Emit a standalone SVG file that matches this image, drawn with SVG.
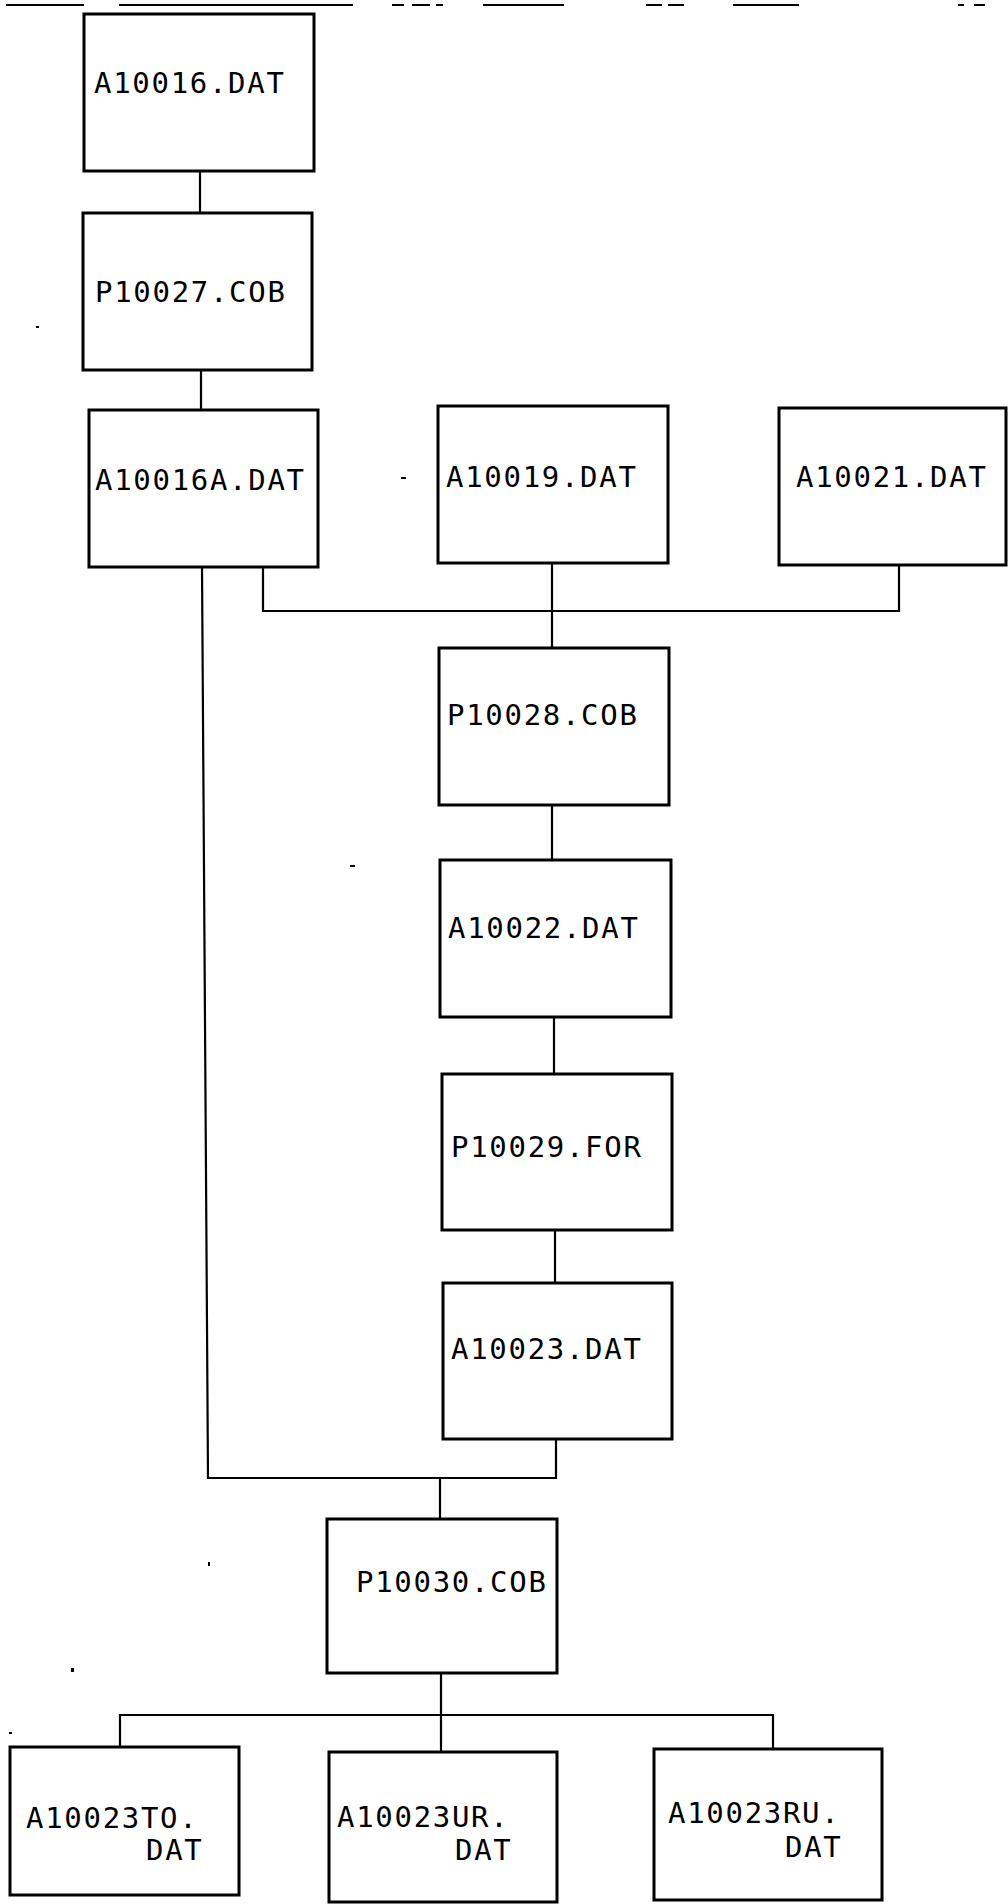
<svg xmlns="http://www.w3.org/2000/svg" width="1008" height="1904" viewBox="0 0 1008 1904">
<style>
.box{fill:#fff;stroke:#000;stroke-width:3}
.lbl{font-family:"DejaVu Sans Mono","Liberation Mono",monospace;font-size:29px;letter-spacing:1.7px;fill:#000}
.conn{fill:none;stroke:#000;stroke-width:2.2}
.scan{stroke:#000;stroke-width:2}
.speck{fill:#000}
</style>
<rect width="1008" height="1904" fill="#fff"/>
<g id="scan-marks">
<line class="scan" x1="6" y1="5" x2="84" y2="5"/>
<line class="scan" x1="119" y1="5" x2="353" y2="5"/>
<line class="scan" x1="392" y1="5" x2="404" y2="5"/>
<line class="scan" x1="412" y1="5" x2="430" y2="5"/>
<line class="scan" x1="436" y1="5" x2="443" y2="5"/>
<line class="scan" x1="483" y1="5" x2="564" y2="5"/>
<line class="scan" x1="646" y1="5" x2="662" y2="5"/>
<line class="scan" x1="668" y1="5" x2="684" y2="5"/>
<line class="scan" x1="733" y1="5" x2="799" y2="5"/>
<line class="scan" x1="958" y1="5" x2="964" y2="5"/>
<line class="scan" x1="974" y1="5" x2="985" y2="5"/>
<rect class="speck" x="36" y="326" width="3" height="2"/>
<rect class="speck" x="401" y="477" width="5" height="2"/>
<rect class="speck" x="350" y="865" width="5" height="2"/>
<rect class="speck" x="208" y="1562" width="2" height="4"/>
<rect class="speck" x="71" y="1668" width="3" height="4"/>
<rect class="speck" x="9" y="1732" width="3" height="2"/>
</g>
<g id="connectors">
<line class="conn" x1="200" y1="171" x2="200" y2="213"/>
<line class="conn" x1="201" y1="370" x2="201" y2="410"/>
<polyline class="conn" points="263,567 263,611 899,611 899,565"/>
<line class="conn" x1="552" y1="563" x2="552" y2="648"/>
<line class="conn" x1="552" y1="805" x2="552" y2="860"/>
<line class="conn" x1="554" y1="1017" x2="554" y2="1074"/>
<line class="conn" x1="555" y1="1230" x2="555" y2="1283"/>
<polyline class="conn" points="202,567 208,1478 556,1478 556,1439"/>
<line class="conn" x1="440" y1="1478" x2="440" y2="1519"/>
<line class="conn" x1="441" y1="1673" x2="441" y2="1752"/>
<polyline class="conn" points="120,1747 120,1715 773,1715 773,1749"/>
</g>
<g id="n-A10016"><rect class="box" x="84" y="14" width="230" height="157"/><text class="lbl" x="94" y="93">A10016.DAT</text></g>
<g id="n-P10027"><rect class="box" x="83" y="213" width="229" height="157"/><text class="lbl" x="95" y="302">P10027.COB</text></g>
<g id="n-A10016A"><rect class="box" x="89" y="410" width="229" height="157"/><text class="lbl" x="95" y="490">A10016A.DAT</text></g>
<g id="n-A10019"><rect class="box" x="438" y="406" width="230" height="157"/><text class="lbl" x="446" y="487">A10019.DAT</text></g>
<g id="n-A10021"><rect class="box" x="779" y="408" width="227" height="157"/><text class="lbl" x="796" y="487">A10021.DAT</text></g>
<g id="n-P10028"><rect class="box" x="439" y="648" width="230" height="157"/><text class="lbl" x="447" y="725">P10028.COB</text></g>
<g id="n-A10022"><rect class="box" x="440" y="860" width="231" height="157"/><text class="lbl" x="448" y="938">A10022.DAT</text></g>
<g id="n-P10029"><rect class="box" x="442" y="1074" width="230" height="156"/><text class="lbl" x="451" y="1157">P10029.FOR</text></g>
<g id="n-A10023"><rect class="box" x="443" y="1283" width="229" height="156"/><text class="lbl" x="451" y="1359">A10023.DAT</text></g>
<g id="n-P10030"><rect class="box" x="327" y="1519" width="230" height="154"/><text class="lbl" x="356" y="1592">P10030.COB</text></g>
<g id="n-A10023TO"><rect class="box" x="10" y="1747" width="229" height="148"/><text class="lbl" x="26" y="1828">A10023TO.</text><text class="lbl" x="146" y="1860">DAT</text></g>
<g id="n-A10023UR"><rect class="box" x="329" y="1752" width="228" height="150"/><text class="lbl" x="337" y="1827">A10023UR.</text><text class="lbl" x="455" y="1860">DAT</text></g>
<g id="n-A10023RU"><rect class="box" x="654" y="1749" width="228" height="151"/><text class="lbl" x="668" y="1823">A10023RU.</text><text class="lbl" x="785" y="1857">DAT</text></g>
</svg>
